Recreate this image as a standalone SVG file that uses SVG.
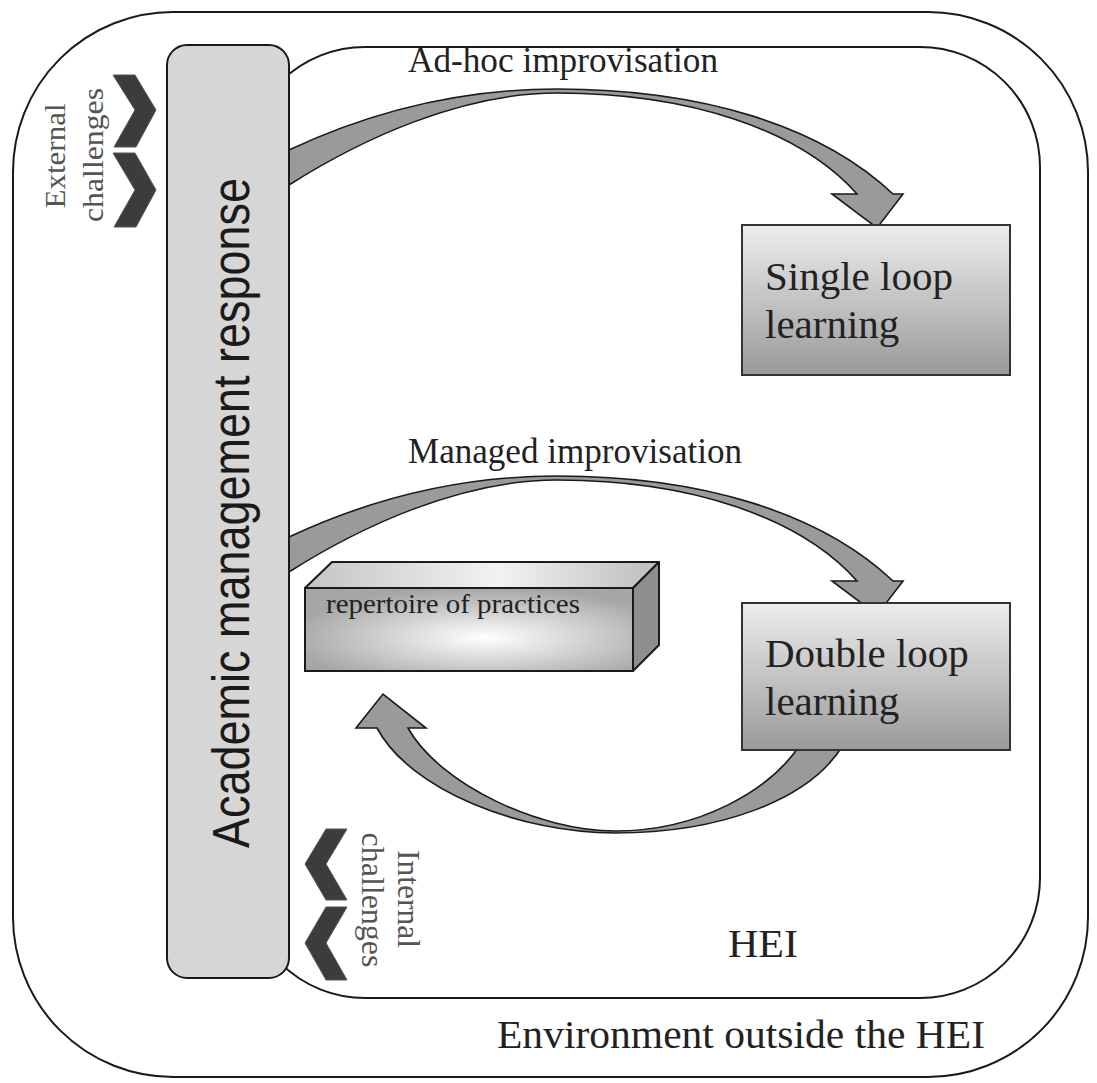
<svg xmlns="http://www.w3.org/2000/svg" width="1097" height="1083" viewBox="0 0 1097 1083">
<style>
.frame{fill:none;stroke:#1a1a1a;stroke-width:2}
.serif{font-family:"Liberation Serif","Times New Roman",serif;fill:#222}
.sans{font-family:"Liberation Sans",Arial,sans-serif;fill:#1a1a1a}
.arrow{fill:#9a9a9a;stroke:#1a1a1a;stroke-width:1.6;stroke-linejoin:miter}
.chev{fill:#3c3c3c;stroke:#555;stroke-width:1}
.box{fill:url(#boxg);stroke:#333;stroke-width:2}
.gray{fill:#555}
</style>
<defs>
<linearGradient id="boxg" x1="0" y1="0" x2="0" y2="1">
<stop offset="0" stop-color="#ededed"/>
<stop offset="1" stop-color="#9a9a9a"/>
</linearGradient>
<radialGradient id="frontg" cx="0.55" cy="0.6" r="0.6">
<stop offset="0" stop-color="#ffffff"/>
<stop offset="1" stop-color="#a6a6a6"/>
</radialGradient>
<linearGradient id="topg" x1="0" y1="0" x2="1" y2="0">
<stop offset="0" stop-color="#c4c4c4"/>
<stop offset="0.55" stop-color="#f2f2f2"/>
<stop offset="1" stop-color="#bdbdbd"/>
</linearGradient>
</defs>
<rect width="1097" height="1083" fill="#ffffff"/>

<g id="environment">
<rect class="frame" x="13" y="12" width="1075" height="1065" rx="160" ry="160"/>
<text class="serif" x="497" y="1048" font-size="41" textLength="488" lengthAdjust="spacingAndGlyphs">Environment outside the HEI</text>
</g>

<g id="hei">
<rect x="245" y="47" width="795" height="951" rx="120" ry="120" fill="#ffffff" stroke="#1a1a1a" stroke-width="2"/>
<text class="serif" x="728" y="957" font-size="41" textLength="70" lengthAdjust="spacingAndGlyphs">HEI</text>
</g>

<g id="connectors">
<path id="adhoc-arrow" class="arrow" d="M289,150 C370,112 460,89 557,89 C700,89 820,125 893,194 L903,194 L877,228 L832,194 L857,194 C800,130 690,93 557,93 C460,93 360,140 289,185 Z"/>
<path id="managed-arrow" class="arrow" transform="translate(0,387)" d="M289,150 C370,112 460,89 557,89 C700,89 820,125 893,194 L903,194 L877,228 L832,194 L857,194 C800,130 690,93 557,93 C460,93 360,140 289,185 Z"/>
<path id="return-arrow" class="arrow" d="M843,745 C810,800 720,833 615,833 C520,833 410,790 377,728 L356,728 L383,694 L426,728 L408,728 C440,785 540,831 615,831 C700,831 770,790 800,745 Z"/>
<text class="serif" x="408" y="72" font-size="35" textLength="310" lengthAdjust="spacingAndGlyphs">Ad-hoc improvisation</text>
<text class="serif" x="408" y="463" font-size="35" textLength="334" lengthAdjust="spacingAndGlyphs">Managed improvisation</text>
</g>

<g id="external-challenges">
<polygon class="chev" points="113,75 135,75 156,110 136,147 114,147 135,110"/>
<polygon class="chev" points="113,153 135,153 156,190 136,227 114,227 135,190"/>
<text class="serif gray" transform="translate(65,156) rotate(-90)" text-anchor="middle" font-size="30" textLength="105" lengthAdjust="spacingAndGlyphs">External</text>
<text class="serif gray" transform="translate(103,155) rotate(-90)" text-anchor="middle" font-size="30" textLength="134" lengthAdjust="spacingAndGlyphs">challenges</text>
</g>

<g id="internal-challenges">
<polygon class="chev" points="347,829 326,829 305,864 326,900 347,900 326,864"/>
<polygon class="chev" points="347,907 326,907 305,943 326,980 347,980 326,943"/>
<text class="serif gray" transform="translate(398,899) rotate(90)" text-anchor="middle" font-size="31" textLength="98" lengthAdjust="spacingAndGlyphs">Internal</text>
<text class="serif gray" transform="translate(362,900) rotate(90)" text-anchor="middle" font-size="31" textLength="135" lengthAdjust="spacingAndGlyphs">challenges</text>
</g>

<g id="academic-management-response">
<rect x="167" y="45" width="122" height="933" rx="20" ry="20" fill="#d6d6d6" stroke="#1a1a1a" stroke-width="2"/>
<text class="sans" transform="translate(249,513) rotate(-90)" text-anchor="middle" font-size="51" textLength="670" lengthAdjust="spacingAndGlyphs">Academic management response</text>
</g>

<g id="single-loop-learning">
<rect class="box" x="742" y="225" width="268" height="150"/>
<text class="serif" x="765" y="290" font-size="41">Single loop</text>
<text class="serif" x="765" y="338" font-size="41">learning</text>
</g>

<g id="double-loop-learning">
<rect class="box" x="742" y="603" width="268" height="147"/>
<text class="serif" x="765" y="667" font-size="41">Double loop</text>
<text class="serif" x="765" y="715" font-size="41">learning</text>
</g>

<g id="repertoire-of-practices">
<polygon points="305,588 332,562 659,562 633,588" fill="url(#topg)" stroke="#1a1a1a" stroke-width="2" stroke-linejoin="round"/>
<polygon points="633,588 659,562 659,645 633,671" fill="#8e8e8e" stroke="#1a1a1a" stroke-width="2" stroke-linejoin="round"/>
<rect x="305" y="588" width="328" height="83" fill="url(#frontg)" stroke="#1a1a1a" stroke-width="2"/>
<text class="serif" x="326" y="613" font-size="28" textLength="254" lengthAdjust="spacingAndGlyphs">repertoire of practices</text>
</g>
</svg>
